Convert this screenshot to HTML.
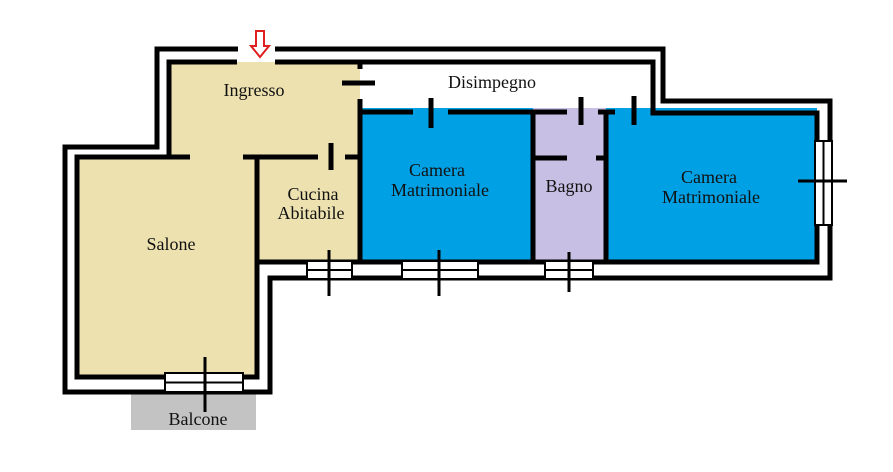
<!DOCTYPE html>
<html><head><style>body{margin:0;background:#fff}svg{display:block}text{font-family:"Liberation Serif",serif;font-size:18px;fill:#111}</style></head><body>
<svg width="893" height="472" viewBox="0 0 893 472" xmlns="http://www.w3.org/2000/svg">
<rect x="131" y="390" width="125" height="40" fill="#c3c3c3"/>
<path d="M169 62H360V262H257V377H77V157H169Z" fill="#ede1b0"/>
<rect x="360" y="108" width="173" height="154" fill="#00a0e4"/>
<rect x="533" y="108" width="73" height="154" fill="#c8c0e4"/>
<rect x="606" y="108" width="211" height="154" fill="#00a0e4"/>
<rect x="360" y="62" width="293" height="46" fill="#fff"/>
<g fill="none" stroke="#000" stroke-width="5">
<path d="M238 49H157V147H65V392H270V278H830V101H663V49H275"/>
<path d="M237 62H169V157H77V377H257V262H817V113H653V62H275"/>
<path d="M360 62V69M360 99V262M342 83H375"/>
<path d="M77 157H190M243 157H318M345 157H360M331 143V170M257 157V262"/>
<path d="M360 112H413M448 112H567M598 112H615M431 98V128M581 97V125M634 96V125"/>
<path d="M533 112V262M606 112V262M533 158H567M596 158H606"/>
</g>
<g stroke="#000" stroke-width="2" fill="#fff">
<rect x="307" y="261" width="45" height="18"/><rect x="402" y="261" width="76" height="18"/><rect x="545" y="261" width="48" height="18"/>
<rect x="815" y="141" width="17" height="84"/><rect x="165" y="373" width="78" height="19"/>
</g>
<g stroke="#000" stroke-width="2">
<path d="M307 270H352M402 270H478M545 270H593M823.5 141V225M165 382.5H243"/>
<path d="M329 250V296M439 250V296M569 252V292M798 181H847M205 357V412" stroke-width="3"/>
</g>
<path d="M256 31H264V46H269L260 57L251 46H256Z" fill="#fff" stroke="#e02020" stroke-width="2"/>
<text x="254" y="96" text-anchor="middle">Ingresso</text>
<text x="492" y="88" text-anchor="middle">Disimpegno</text>
<text x="437" y="176" text-anchor="middle">Camera</text><text x="440" y="196" text-anchor="middle">Matrimoniale</text>
<text x="313" y="200" text-anchor="middle">Cucina</text><text x="311" y="219" text-anchor="middle">Abitabile</text>
<text x="171" y="250" text-anchor="middle">Salone</text>
<text x="569" y="192" text-anchor="middle">Bagno</text>
<text x="709" y="183" text-anchor="middle">Camera</text><text x="711" y="203" text-anchor="middle">Matrimoniale</text>
<text x="198" y="425" text-anchor="middle">Balcone</text>
</svg></body></html>
